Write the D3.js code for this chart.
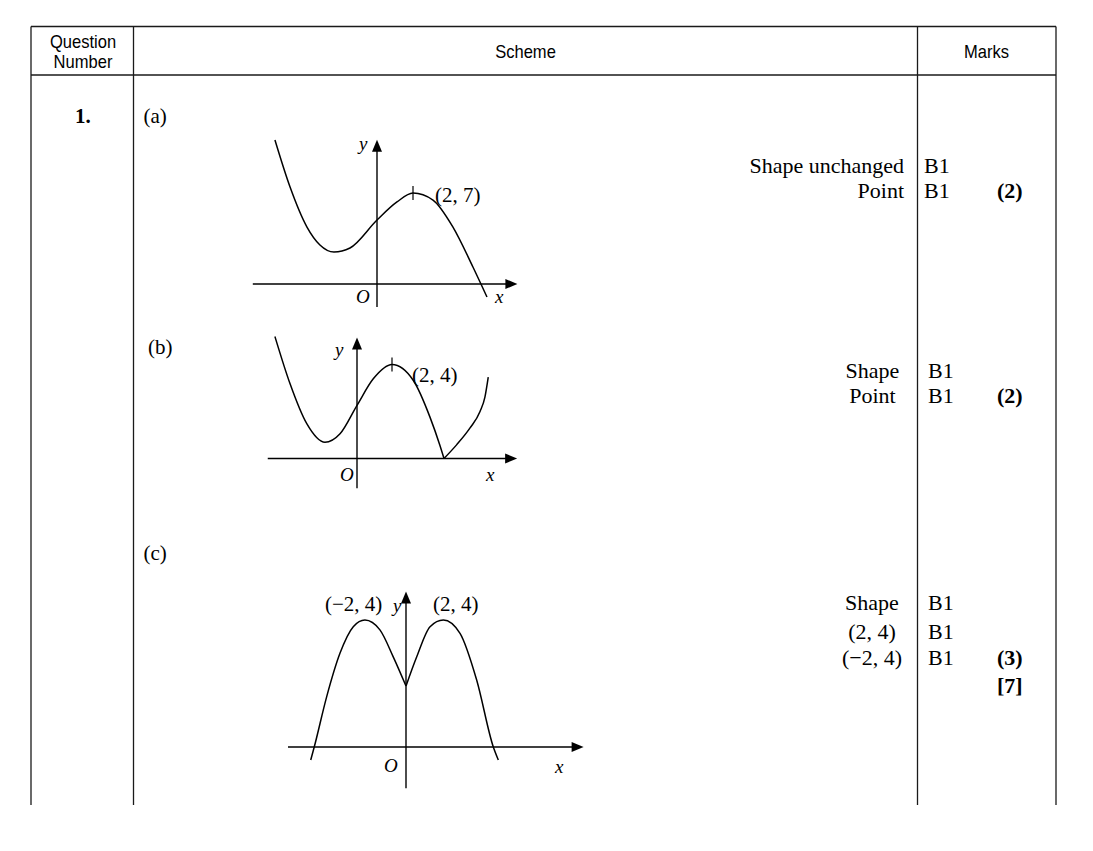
<!DOCTYPE html>
<html>
<head>
<meta charset="utf-8">
<script src="https://cdn.jsdelivr.net/npm/d3@7"></script>
<style>
  html, body { margin: 0; padding: 0; background: #fff; }
  svg { display: block; }
  .serif { font-family: "Liberation Serif", "Times New Roman", serif; fill: #000; }
  .sans { font-family: "Liberation Sans", Arial, sans-serif; fill: #000; }
</style>
</head>
<body>
<script>
// ---------------- DATA ----------------
const headerLabels = ["Question Number", "Scheme", "Marks"];
const questionNumber = "1.";
const partLabels = ["(a)", "(b)", "(c)"];

// Curve for part (a): y = f(x) shifted, max at (2, 7)
const curveA = [
  [-5.67, 11.08], [-4.83, 7.46], [-3.89, 4.38], [-3.17, 3.0], [-2.39, 2.46],
  [-1.5, 2.77], [0, 4.92], [1.11, 6.31], [2, 7], [3.11, 6.46],
  [4.22, 4.38], [5.33, 1.31], [6.11, -1.0]
];
// Curve for part (b): |f(x)|, max at (2, 4), cusp on x-axis
const curveB1 = [
  [-4.69, 5.19], [-3.83, 3.19], [-2.87, 1.48], [-1.83, 0.69], [-0.97, 1.05],
  [0, 2.26], [0.93, 3.39], [2, 4], [3.22, 3.32], [4.17, 1.76],
  [4.74, 0.55], [4.97, 0]
];
const curveB2 = [
  [4.97, 0], [5.69, 0.58], [6.46, 1.3], [7.03, 2.0], [7.31, 2.61], [7.5, 3.46]
];
// Curve for part (c): f(|x|), maxima at (-2, 4) and (2, 4), cusp on y-axis
const curveC1 = [
  [-5.15, -0.41], [-4.96, 0], [-4.29, 1.58], [-3.57, 2.95], [-2.85, 3.79],
  [-2.22, 4], [-1.41, 3.69], [-0.69, 2.84], [0, 1.92]
];
const curveC2 = [
  [0, 1.92], [0.58, 2.84], [1.3, 3.79], [2.02, 4], [2.92, 3.58],
  [3.82, 2.11], [4.72, 0], [4.99, -0.41]
];

const pointLabels = ["(2, 7)", "(2, 4)", "(\u22122, 4)", "(2, 4)"];
const schemeA = ["Shape unchanged", "Point"];
const schemeB = ["Shape", "Point"];
const schemeC = ["Shape", "(2, 4)", "(\u22122, 4)"];
const marksA = ["B1", "B1"];
const marksB = ["B1", "B1"];
const marksC = ["B1", "B1", "B1"];
const totalsA = ["(2)"];
const totalsB = ["(2)"];
const totalsC = ["(3)", "[7]"];

// ---------------- LAYOUT ----------------
const W = 1093, H = 851;
const svg = d3.select("body").append("svg").attr("width", W).attr("height", H);
svg.append("rect").attr("width", W).attr("height", H).attr("fill", "#fff");

// Table frame
const tbl = { left: 31, right: 1056, top: 26.5, head: 75, bottom: 805, col1: 133.5, col2: 917.5 };
const lineCol = "#1a1a1a";
const g = svg.append("g");
g.append("line").attr("x1", tbl.left).attr("x2", tbl.right).attr("y1", tbl.top).attr("y2", tbl.top)
  .attr("stroke", lineCol).attr("stroke-width", 1.3);
g.append("line").attr("x1", tbl.left).attr("x2", tbl.right).attr("y1", tbl.head).attr("y2", tbl.head)
  .attr("stroke", lineCol).attr("stroke-width", 1.5);
[tbl.left, tbl.col1, tbl.col2, tbl.right].forEach(x => {
  g.append("line").attr("x1", x).attr("x2", x).attr("y1", tbl.top).attr("y2", tbl.bottom)
    .attr("stroke", lineCol).attr("stroke-width", 1.3);
});

// Header text (slightly condensed, taller, like Arial Narrow)
const hdr = svg.append("g").attr("class", "sans").attr("font-size", 18).attr("text-anchor", "middle");
const qn = headerLabels[0].split(" ");
function hText(t, x, y) {
  hdr.append("text").attr("transform", `translate(${x},${y}) scale(0.92,1)`).text(t);
}
hText(qn[0], 83, 47.5);
hText(qn[1], 83, 68);
hText(headerLabels[1], 525.5, 57.5);
hText(headerLabels[2], 986.5, 57.5);

// Left labels
svg.append("text").attr("class", "serif").attr("font-size", 21).attr("font-weight", "bold")
  .attr("x", 75).attr("y", 123).text(questionNumber);
const partPos = [[143.5, 123], [148, 354], [143.5, 560]];
partLabels.forEach((t, i) => {
  svg.append("text").attr("class", "serif").attr("font-size", 21)
    .attr("x", partPos[i][0]).attr("y", partPos[i][1]).text(t);
});

// ---------------- GRAPHS ----------------
function drawPanel(p) {
  const x = d3.scaleLinear().domain([0, 1]).range([p.ox, p.ox + p.ux]);
  const y = d3.scaleLinear().domain([0, 1]).range([p.oy, p.oy - p.uy]);
  const pg = svg.append("g");
  const x0 = x(0), y0 = y(0);
  // x axis
  pg.append("line").attr("x1", x(p.xr[0])).attr("x2", x(p.xr[1]) - 6)
    .attr("y1", y0).attr("y2", y0).attr("stroke", "#000").attr("stroke-width", 1.4);
  const xt = x(p.xr[1]);
  pg.append("path").attr("d", `M${xt},${y0} L${xt - 12},${y0 - 5} L${xt - 12},${y0 + 5} Z`).attr("fill", "#000");
  // y axis
  pg.append("line").attr("x1", x0).attr("x2", x0)
    .attr("y1", y(p.yr[0])).attr("y2", y(p.yr[1]) + 6).attr("stroke", "#000").attr("stroke-width", 1.4);
  const yt = y(p.yr[1]);
  pg.append("path").attr("d", `M${x0},${yt} L${x0 - 5},${yt + 12} L${x0 + 5},${yt + 12} Z`).attr("fill", "#000");
  // curves
  const line = d3.line().x(d => x(d[0])).y(d => y(d[1])).curve(d3.curveMonotoneX);
  p.curves.forEach(c => {
    pg.append("path").attr("d", line(c)).attr("fill", "none").attr("stroke", "#000")
      .attr("stroke-width", 1.5).attr("stroke-linejoin", "miter");
  });
  // tick mark at maximum
  if (p.tick) {
    const tx = x(p.tick[0]), ty = y(p.tick[1]);
    pg.append("line").attr("x1", tx).attr("x2", tx).attr("y1", ty - 7).attr("y2", ty + 7)
      .attr("stroke", "#000").attr("stroke-width", 1.2);
  }
  // axis letters
  const it = pg.append("g").attr("class", "serif").attr("font-size", 19).attr("font-style", "italic");
  it.append("text").attr("x", p.yl[0]).attr("y", p.yl[1]).text("y");
  it.append("text").attr("x", p.ol[0]).attr("y", p.ol[1]).text("O");
  it.append("text").attr("x", p.xl[0]).attr("y", p.xl[1]).text("x");
  // point labels
  p.labels.forEach(l => {
    pg.append("text").attr("class", "serif").attr("font-size", 21)
      .attr("x", l.x).attr("y", l.y).text(l.t);
  });
}

drawPanel({
  ox: 377, oy: 284, ux: 18, uy: 13,
  xr: [-6.9, 7.8], yr: [-1.77, 11.1],
  curves: [curveA], tick: [2, 7],
  yl: [359, 150], ol: [356, 303], xl: [495, 303],
  labels: [{ t: pointLabels[0], x: 435, y: 202 }]
});
drawPanel({
  ox: 357, oy: 458.5, ux: 17.5, uy: 23.5,
  xr: [-5.1, 9.15], yr: [-1.27, 5.15],
  curves: [curveB1, curveB2], tick: [2, 4],
  yl: [335, 356], ol: [340, 481], xl: [486, 481],
  labels: [{ t: pointLabels[1], x: 412, y: 382 }]
});
drawPanel({
  ox: 406, oy: 747, ux: 18.5, uy: 31.75,
  xr: [-6.38, 9.6], yr: [-1.3, 4.9],
  curves: [curveC1, curveC2], tick: null,
  yl: [393, 612], ol: [384, 772], xl: [555, 773],
  labels: [{ t: pointLabels[2], x: 325, y: 611 }, { t: pointLabels[3], x: 433, y: 611 }]
});

// ---------------- SCHEME / MARKS TEXT ----------------
const tx = svg.append("g").attr("class", "serif").attr("font-size", 22);
function rowsText(lines, x, ys, anchor, bold) {
  lines.forEach((t, i) => {
    tx.append("text").attr("x", x).attr("y", ys[i]).attr("text-anchor", anchor)
      .attr("font-weight", bold ? "bold" : null).text(t);
  });
}
rowsText(schemeA, 904, [173, 198], "end");
rowsText(marksA, 924, [173, 198], "start");
rowsText(totalsA, 997, [198], "start", true);

rowsText(schemeB, 872.5, [378, 403], "middle");
rowsText(marksB, 928, [378, 403], "start");
rowsText(totalsB, 997, [403], "start", true);

rowsText(schemeC, 872, [610, 639, 665], "middle");
rowsText(marksC, 928, [610, 639, 665], "start");
rowsText(totalsC, 997, [665, 693], "start", true);
</script>
</body>
</html>
